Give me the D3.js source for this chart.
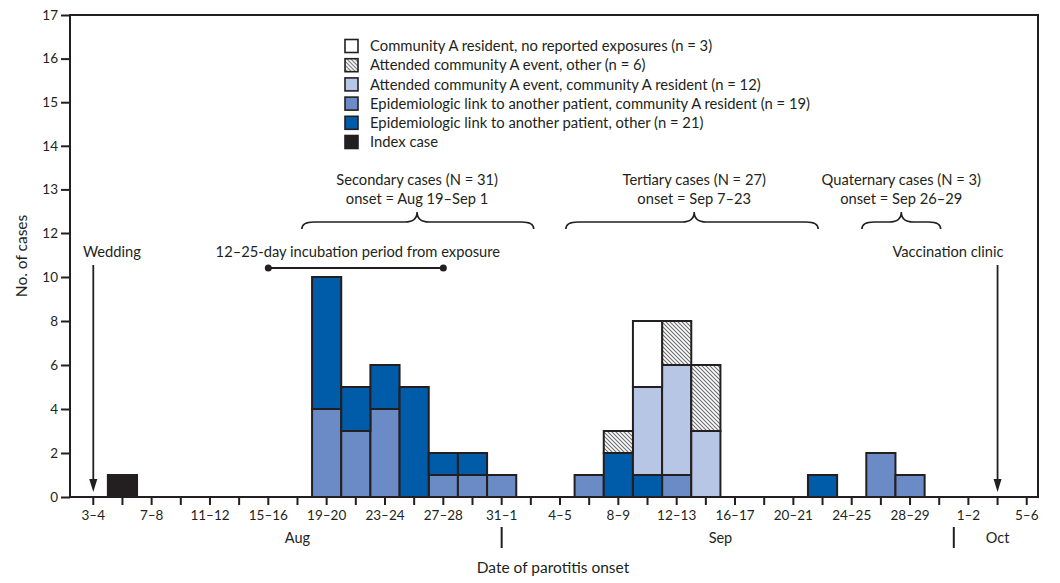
<!DOCTYPE html>
<html><head><meta charset="utf-8">
<script src="https://cdn.jsdelivr.net/npm/d3@7"></script>
<style>
body{margin:0;background:#fff}
text{font-family:Lato,"Open Sans",sans-serif;fill:#231f20}
</style>
</head><body><svg id="c" width="1060" height="583"></svg>
<script>
// ---- data ----
const binLabels = ["3–4","5–6","7–8","9–10","11–12","13–14","15–16","17–18","19–20","21–22","23–24","25–26","27–28","29–30","31–1",
  "2–3","4–5","6–7","8–9","10–11","12–13","14–15","16–17","18–19","20–21","22–23","24–25","26–27","28–29","30",
  "1–2","3–4","5–6"];
const monthLabels = ["Aug","Sep","Oct"];
const monthLabelPos = [7, 21.5, 31];      // bin index where month label sits
const monthBreaks = [14, 29.5];           // bin index of month separators
const yTicks = [0,2,4,6,8,10,12,13,14,15,16,17];
//                  3 5 7 9 1 3 5 7 9 1 3 5 7 9 31 2 4 6 8 10 12 14 16 18 20 22 24 26 28 30 1 3 5
const epiCommA   = [0,0,0,0,0,0,0,0,4,3,4,0,1,1,1, 0,0,1,0,0, 1, 0, 0, 0, 0, 0, 0, 2, 1, 0, 0,0,0];
const epiOther   = [0,0,0,0,0,0,0,0,6,2,2,5,1,1,0, 0,0,0,2,1, 0, 0, 0, 0, 0, 1, 0, 0, 0, 0, 0,0,0];
const eventCommA = [0,0,0,0,0,0,0,0,0,0,0,0,0,0,0, 0,0,0,0,4, 5, 3, 0, 0, 0, 0, 0, 0, 0, 0, 0,0,0];
const eventOther = [0,0,0,0,0,0,0,0,0,0,0,0,0,0,0, 0,0,0,1,0, 2, 3, 0, 0, 0, 0, 0, 0, 0, 0, 0,0,0];
const noExposure = [0,0,0,0,0,0,0,0,0,0,0,0,0,0,0, 0,0,0,0,3, 0, 0, 0, 0, 0, 0, 0, 0, 0, 0, 0,0,0];
const indexCase  = [0,1,0,0,0,0,0,0,0,0,0,0,0,0,0, 0,0,0,0,0, 0, 0, 0, 0, 0, 0, 0, 0, 0, 0, 0,0,0];
const stackKeys = ["epiCommA","epiOther","eventCommA","eventOther","noExposure","indexCase"];
const seriesData = {epiCommA, epiOther, eventCommA, eventOther, noExposure, indexCase};
const legendKeys = ["noExposure","eventOther","eventCommA","epiCommA","epiOther","indexCase"];
const legendLabels = {
  noExposure:"Community A resident, no reported exposures (n = 3)",
  eventOther:"Attended community A event, other (n = 6)",
  eventCommA:"Attended community A event, community A resident (n = 12)",
  epiCommA:"Epidemiologic link to another patient, community A resident (n = 19)",
  epiOther:"Epidemiologic link to another patient, other (n = 21)",
  indexCase:"Index case"
};
const colors = {epiCommA:"#6b8bc6", epiOther:"#005ba9", eventCommA:"#b8c6e6", eventOther:"url(#hatch)", noExposure:"#ffffff", indexCase:"#231f20"};

// ---- layout ----
const svg = d3.select("#c");
const ink = "#231f20";
const FS = 14.7;
const pLeft = 70, pRight = 1038, pTop = 15, pBottom = 497;
const idx = d3.range(binLabels.length);
const x = d3.scaleBand().domain(idx).range([78.7, 78.7 + 29.17*binLabels.length]).padding(0);
const xc = i => x(0) + x.bandwidth()*(i + 0.5);   // continuous position by bin index
const y = d3.scaleLinear().domain([0,12,17]).range([pBottom,233,pTop]);

const defs = svg.append("defs");
const pat = defs.append("pattern").attr("id","hatch").attr("patternUnits","userSpaceOnUse")
  .attr("width",4).attr("height",4);
pat.append("rect").attr("width",4).attr("height",4).attr("fill","#fff");
pat.append("path").attr("d","M0,0L4,4M-1,3L1,5M3,-1L5,1").attr("stroke","#6d6e71").attr("stroke-width",1.1);

// bars
const table = idx.map(i => { const o = {i}; stackKeys.forEach(k => o[k] = seriesData[k][i]); return o; });
const stacked = d3.stack().keys(stackKeys)(table);
svg.append("g").selectAll("g").data(stacked).join("g")
  .attr("fill", d => colors[d.key])
  .selectAll("rect").data(d => d.filter(p => p[1] - p[0] > 0)).join("rect")
  .attr("x", d => x(d.data.i)).attr("width", x.bandwidth())
  .attr("y", d => y(d[1])).attr("height", d => y(d[0]) - y(d[1]))
  .attr("stroke", ink).attr("stroke-width", 2);

// frame
svg.append("rect").attr("x",pLeft).attr("y",pTop).attr("width",pRight-pLeft).attr("height",pBottom-pTop)
  .attr("fill","none").attr("stroke",ink).attr("stroke-width",2);

// y axis
const ya = svg.append("g").attr("transform",`translate(${pLeft},0)`)
  .call(d3.axisLeft(y).tickValues(yTicks).tickSize(9).tickPadding(3));
ya.select(".domain").remove();
ya.selectAll("line").attr("stroke",ink).attr("stroke-width",2);
ya.selectAll("text").attr("font-size",13.5).style("font-family","Lato,'Open Sans',sans-serif").attr("fill",ink);

// x axis
const xa = svg.append("g").attr("transform",`translate(0,${pBottom})`)
  .call(d3.axisBottom(x).tickSize(8).tickPadding(5).tickFormat(i => i % 2 === 0 ? binLabels[i] : ""));
xa.select(".domain").remove();
xa.selectAll("line").attr("stroke",ink).attr("stroke-width",2);
xa.selectAll("text").attr("font-size",13.5).style("font-family","Lato,'Open Sans',sans-serif").attr("fill",ink);

// months
svg.append("g").selectAll("text").data(monthLabels).join("text")
  .attr("x",(d,i)=>xc(monthLabelPos[i])).attr("y",543).attr("text-anchor","middle").attr("font-size",14.5).text(d=>d);
svg.append("g").selectAll("line").data(monthBreaks).join("line")
  .attr("x1",d=>xc(d)).attr("x2",d=>xc(d)).attr("y1",527).attr("y2",548).attr("stroke",ink).attr("stroke-width",2);

// axis titles
svg.append("text").attr("x",553).attr("y",573).attr("text-anchor","middle").attr("font-size",15.5).text("Date of parotitis onset");
svg.append("text").attr("transform","translate(27,256) rotate(-90)").attr("text-anchor","middle").attr("font-size",15.5).text("No. of cases");

// legend
const lg = svg.append("g").selectAll("g").data(legendKeys).join("g")
  .attr("transform",(d,i)=>`translate(345,${46 + i*19.2})`);
lg.append("rect").attr("x",0).attr("y",-6.5).attr("width",13).attr("height",13)
  .attr("fill",d=>colors[d]).attr("stroke",ink).attr("stroke-width",1.6);
lg.append("text").attr("x",25).attr("y",5.2).attr("font-size",14.8).text(d=>legendLabels[d]);

// annotations
function brace(x1,x2,xm,yTip,yS,yEnd){
  const r=12;
  return `M${x1},${yEnd}Q${x1},${yS} ${x1+r},${yS}L${xm-r},${yS}Q${xm},${yS} ${xm},${yTip}`+
         `Q${xm},${yS} ${xm+r},${yS}L${x2-r},${yS}Q${x2},${yS} ${x2},${yEnd}`;
}
const groups = [
  {l1:"Secondary cases (N = 31)", l2:"onset = Aug 19–Sep 1", a:7.15, b:15.1, m:11.1},
  {l1:"Tertiary cases (N = 27)", l2:"onset = Sep 7–23", a:16.2, b:24.85, m:20.6},
  {l1:"Quaternary cases (N = 3)", l2:"onset = Sep 26–29", a:26.35, b:29.05, m:27.7}
];
const ag = svg.append("g");
groups.forEach(g=>{
  ag.append("text").attr("x",xc(g.m)).attr("y",185).attr("text-anchor","middle").attr("font-size",FS).text(g.l1);
  ag.append("text").attr("x",xc(g.m)).attr("y",204).attr("text-anchor","middle").attr("font-size",FS).text(g.l2);
  ag.append("path").attr("d",brace(xc(g.a),xc(g.b),xc(g.m),212,222,229)).attr("fill","none").attr("stroke",ink).attr("stroke-width",1.6);
});
// incubation
ag.append("text").attr("x",xc(9.07)).attr("y",257).attr("text-anchor","middle").attr("font-size",FS).text("12–25-day incubation period from exposure");
ag.append("line").attr("x1",xc(6)).attr("x2",xc(12)).attr("y1",268).attr("y2",268).attr("stroke",ink).attr("stroke-width",2);
ag.selectAll("circle").data([6,12]).join("circle").attr("cx",d=>xc(d)).attr("cy",268).attr("r",3.5).attr("fill",ink);
// event arrows
const events = [{t:"Wedding", i:0, tx:0.64},{t:"Vaccination clinic", i:31, tx:29.3}];
events.forEach(e=>{
  ag.append("text").attr("x",xc(e.tx)).attr("y",257).attr("text-anchor","middle").attr("font-size",FS).text(e.t);
  const cx = xc(e.i);
  ag.append("line").attr("x1",cx).attr("x2",cx).attr("y1",265).attr("y2",482).attr("stroke",ink).attr("stroke-width",1.8);
  ag.append("path").attr("d",`M${cx-4},${479}L${cx+4},${479}L${cx},${492}Z`).attr("fill",ink);
});
</script></body></html>
